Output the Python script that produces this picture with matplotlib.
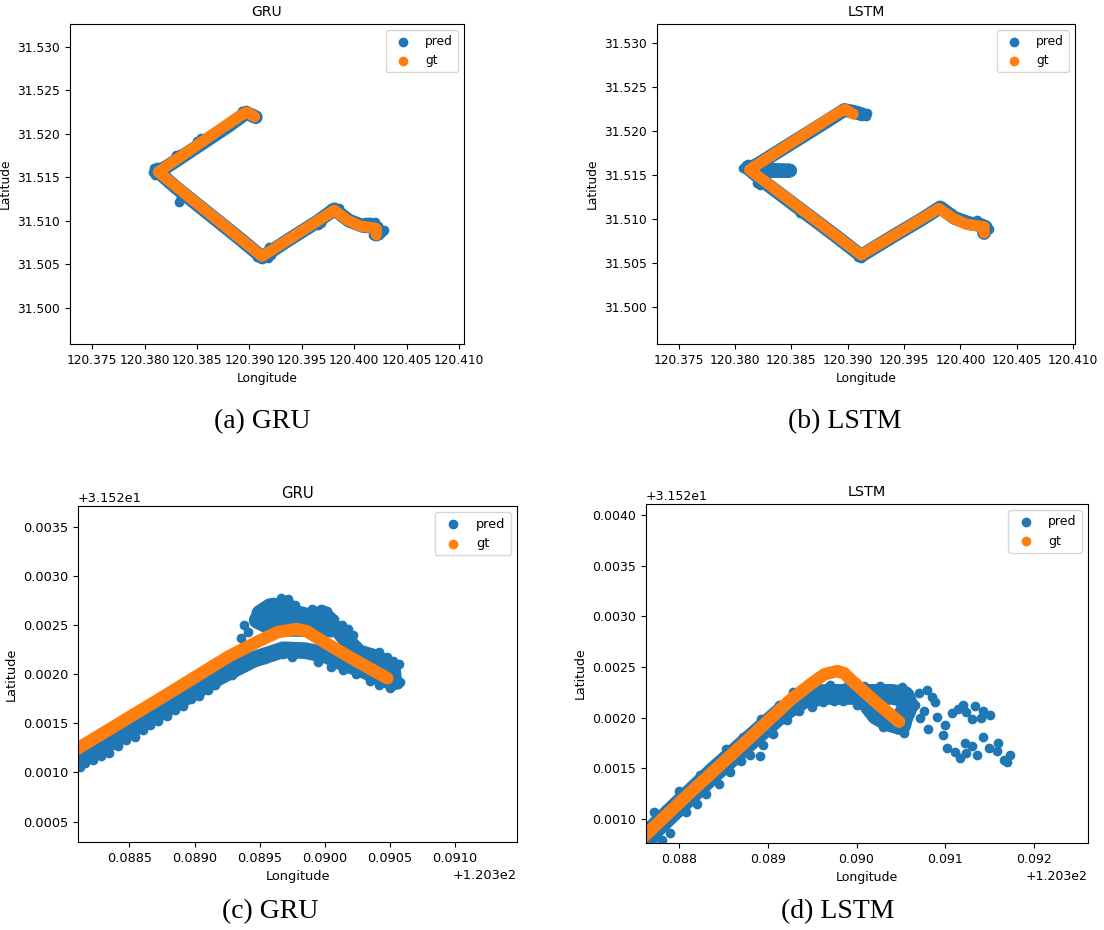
import matplotlib.pyplot as plt
import numpy as np
from matplotlib.ticker import ScalarFormatter, MultipleLocator

BLUE = '#1f77b4'
ORANGE = '#ff7f0e'

# Ground truth track, shared by both models (turn point is sampled finer)
gt_lon = [120.39048, 120.39021, 120.38993, 120.38986, 120.38978, 120.38964, 120.38948,
          120.38926, 120.38872, 120.38811, 120.3813, 120.3912, 120.3981, 120.3993,
          120.4005, 120.4016, 120.4021, 120.4021]
gt_lat = [31.52196, 31.52216, 31.52238, 31.52244, 31.52246, 31.52243, 31.52233,
          31.52218, 31.52174, 31.52125, 31.5156, 31.5059, 31.5112, 31.5101,
          31.5094, 31.5092, 31.5091, 31.5084]

# Predicted track, whole route: main path + the points that stick out of it
gru_lon = [120.3906, 120.3897, 120.3880, 120.3860, 120.3840, 120.3820, 120.3812, 120.3830,
           120.3860, 120.3890, 120.3912, 120.3940, 120.3965, 120.3981, 120.3995, 120.4008,
           120.4018, 120.4022, 120.4021]
gru_lat = [31.5219, 31.5224, 31.5209, 31.5193, 31.5177, 31.5161, 31.5157, 31.5138,
           31.5109, 31.5080, 31.5058, 31.5080, 31.5099, 31.5113, 31.5100, 31.5094,
           31.5093, 31.5091, 31.5084]
gru_out_lon = [120.3897, 120.3893, 120.3903, 120.3865, 120.3854, 120.3850, 120.3830, 120.3834,
               120.3809, 120.3808, 120.3812, 120.3810, 120.3819, 120.3822, 120.3832, 120.3834,
               120.3833, 120.3834, 120.3907, 120.3912, 120.3918, 120.3921, 120.3919, 120.3923,
               120.3940, 120.3965, 120.3968, 120.3980, 120.3985, 120.3978, 120.4010, 120.4020,
               120.4015, 120.4027, 120.4026, 120.4019, 120.4013, 120.4023, 120.4028, 120.4024,
               120.4018]
gru_out_lat = [31.5227, 31.5226, 31.5223, 31.5201, 31.5195, 31.5192, 31.5176, 31.5177,
               31.5161, 31.5156, 31.5162, 31.5152, 31.5147, 31.5143, 31.5139, 31.5134,
               31.5122, 31.5124, 31.5058, 31.5056, 31.5057, 31.5060, 31.5070, 31.5069,
               31.5082, 31.5095, 31.5097, 31.5114, 31.5115, 31.5115, 31.5099, 31.5098,
               31.5099, 31.5088, 31.5086, 31.5083, 31.5098, 31.5094, 31.5089, 31.5084,
               31.5083]

lstm_lon = [120.3913, 120.3905, 120.3897, 120.3880, 120.3860, 120.3840, 120.3820, 120.3812,
            120.3849, 120.3815, 120.3830, 120.3860, 120.3890, 120.3912, 120.3940, 120.3965,
            120.3982, 120.3995, 120.4008, 120.4018, 120.4022, 120.4021]
lstm_lat = [31.5219, 31.5222, 31.5224, 31.5210, 31.5194, 31.5178, 31.5162, 31.5157,
            31.5155, 31.5154, 31.5138, 31.5109, 31.5080, 31.5058, 31.5080, 31.5099,
            31.5113, 31.5101, 31.5095, 31.5093, 31.5091, 31.5084]
lstm_out_lon = [120.3914, 120.3917, 120.3910, 120.3916, 120.3807, 120.3810, 120.3812, 120.3822,
                120.3820, 120.3858, 120.3912, 120.3909, 120.3982, 120.3985, 120.4015, 120.4024,
                120.4025, 120.4021]
lstm_out_lat = [31.5218, 31.5221, 31.5223, 31.5217, 31.5158, 31.5161, 31.5163, 31.5139,
                31.5141, 31.5107, 31.5056, 31.5057, 31.5114, 31.5113, 31.5099, 31.5092,
                31.5089, 31.5083]

# Close-up of the turn, given as offsets the way the axes show them
LON0 = 120.3
LAT0 = 31.52

gru_zoom_path_lon = [0.08811, 0.08850, 0.08890, 0.08920, 0.08945, 0.08968, 0.08985,
                     0.09000, 0.09015, 0.09030, 0.09045, 0.09053,
                     0.09052, 0.09045, 0.09036, 0.09026, 0.09016,
                     0.09010, 0.08960, 0.08948, 0.09004, 0.08998, 0.08990, 0.08978, 0.08950,
                     0.08958, 0.08972]
gru_zoom_path_lat = [0.00111, 0.00142, 0.00174, 0.00198, 0.00215, 0.00225, 0.00224,
                     0.00220, 0.00211, 0.00204, 0.00195, 0.00192,
                     0.00205, 0.00213, 0.00218, 0.00222, 0.00236,
                     0.00246, 0.00247, 0.00255, 0.00255, 0.00262, 0.00258, 0.00262, 0.00262,
                     0.00269, 0.00269]
gru_zoom_out_lon = [0.08812, 0.08822, 0.08834, 0.08847, 0.08860, 0.08872, 0.08885, 0.08897,
                    0.08910, 0.08922, 0.08935, 0.08947, 0.08960, 0.08975,
                    0.08816, 0.08828, 0.08841, 0.08854, 0.08866, 0.08879, 0.08891, 0.08903,
                    0.08916, 0.08929, 0.08941, 0.08954, 0.08968,
                    0.08938, 0.08941, 0.08936,
                    0.08950, 0.08955, 0.08960, 0.08966, 0.08972, 0.08977, 0.08983, 0.08990,
                    0.08997, 0.09002, 0.09007, 0.09013, 0.09018, 0.09022,
                    0.09025, 0.09030, 0.09036, 0.09042, 0.09048, 0.09052, 0.09057,
                    0.08995, 0.09005, 0.09014, 0.09024, 0.09035, 0.09042, 0.09050, 0.09056,
                    0.09058]
gru_zoom_out_lat = [0.00106, 0.00113, 0.00120, 0.00133, 0.00143, 0.00152, 0.00164, 0.00175,
                    0.00184, 0.00196, 0.00205, 0.00214, 0.00219, 0.00218,
                    0.00110, 0.00117, 0.00127, 0.00136, 0.00148, 0.00157, 0.00168, 0.00178,
                    0.00189, 0.00199, 0.00209, 0.00216, 0.00221,
                    0.00250, 0.00243, 0.00237,
                    0.00262, 0.00268, 0.00274, 0.00278, 0.00277, 0.00271, 0.00262, 0.00266,
                    0.00266, 0.00264, 0.00256, 0.00250, 0.00246, 0.00240,
                    0.00229, 0.00224, 0.00222, 0.00223, 0.00218, 0.00214, 0.00210,
                    0.00213, 0.00207, 0.00204, 0.00200, 0.00193, 0.00189, 0.00186, 0.00190,
                    0.00192]

lstm_zoom_path_lon = [0.08762, 0.08800, 0.08840, 0.08880, 0.08915, 0.08940, 0.08965, 0.08990,
                      0.09015, 0.09040, 0.09054, 0.09058, 0.09052, 0.09050, 0.09035, 0.09023,
                      0.09015]
lstm_zoom_path_lat = [0.00082, 0.00114, 0.00147, 0.00178, 0.00205, 0.00219, 0.00223, 0.00223,
                      0.00223, 0.00223, 0.00221, 0.00212, 0.00200, 0.00193, 0.00197, 0.00203,
                      0.00212]
lstm_zoom_out_lon = [0.08772, 0.08785, 0.08800, 0.08823, 0.08838, 0.08853, 0.08872, 0.08892,
                     0.08913, 0.08928,
                     0.08770, 0.08781, 0.08790, 0.08808, 0.08820, 0.08830, 0.08845, 0.08857,
                     0.08870, 0.08880, 0.08891, 0.08895, 0.08906, 0.08921, 0.08935, 0.08950,
                     0.08962, 0.08975, 0.08985, 0.09000, 0.09008,
                     0.08955, 0.08970, 0.08989, 0.09008, 0.09027, 0.09051,
                     0.09012, 0.09023, 0.09030, 0.09053, 0.09045, 0.09060, 0.09058,
                     0.09070, 0.09079, 0.09085, 0.09089, 0.09076, 0.09091, 0.09081, 0.09100,
                     0.09098, 0.09066, 0.09072,
                     0.09108, 0.09115, 0.09120, 0.09124, 0.09130, 0.09134, 0.09140, 0.09143,
                     0.09150,
                     0.09102, 0.09111, 0.09117, 0.09122, 0.09124, 0.09130, 0.09136, 0.09143,
                     0.09149, 0.09158, 0.09160, 0.09166, 0.09173, 0.09170]
lstm_zoom_out_lat = [0.00107, 0.00110, 0.00128, 0.00143, 0.00150, 0.00169, 0.00181, 0.00199,
                     0.00213, 0.00225,
                     0.00080, 0.00079, 0.00086, 0.00107, 0.00115, 0.00125, 0.00135, 0.00146,
                     0.00157, 0.00163, 0.00162, 0.00173, 0.00184, 0.00198, 0.00207, 0.00211,
                     0.00216, 0.00217, 0.00217, 0.00213, 0.00214,
                     0.00232, 0.00232, 0.00231, 0.00231, 0.00231, 0.00230,
                     0.00217, 0.00198, 0.00191, 0.00185, 0.00200, 0.00205, 0.00220,
                     0.00224, 0.00227, 0.00220, 0.00216, 0.00207, 0.00201, 0.00189, 0.00193,
                     0.00183, 0.00213, 0.00200,
                     0.00205, 0.00209, 0.00213, 0.00206, 0.00199, 0.00212, 0.00200, 0.00207,
                     0.00203,
                     0.00170, 0.00166, 0.00160, 0.00175, 0.00165, 0.00172, 0.00163, 0.00181,
                     0.00170, 0.00167, 0.00175, 0.00158, 0.00163, 0.00156]


def draw(ax, p_lon, p_lat, o_lon, o_lat, title, xlim, ylim, pred_lw, gt_lw, fs):
    # pred: main path drawn thick, plus all points as dots
    ax.plot(p_lon, p_lat, color=BLUE, lw=pred_lw, solid_capstyle='round',
            solid_joinstyle='round', zorder=1)
    ax.scatter(np.concatenate([p_lon, o_lon]), np.concatenate([p_lat, o_lat]),
               s=36, color=BLUE, label='pred', zorder=1)
    # gt on top
    ax.plot(gt_lon, gt_lat, color=ORANGE, lw=gt_lw, solid_capstyle='round',
            solid_joinstyle='round', zorder=2)
    ax.scatter(gt_lon, gt_lat, s=36, color=ORANGE, label='gt', zorder=2)

    ax.set_xlim(xlim)
    ax.set_ylim(ylim)
    ax.set_title(title, fontsize=fs * 1.15)
    ax.set_xlabel('Longitude', fontsize=fs)
    ax.set_ylabel('Latitude', fontsize=fs)
    ax.tick_params(labelsize=fs)
    ax.xaxis.get_offset_text().set_fontsize(fs)
    ax.yaxis.get_offset_text().set_fontsize(fs)
    ax.legend(loc='upper right', fontsize=fs)


fig = plt.figure(figsize=(11.04, 9.3), dpi=100)

# (a) GRU, whole route
ax = fig.add_axes([0.0634, 0.6301, 0.3569, 0.3441])
draw(ax, np.array(gru_lon), np.array(gru_lat), np.array(gru_out_lon), np.array(gru_out_lat),
     'GRU', (120.37287, 120.41048), (31.49582, 31.53261), 10, 8, 8.8)
ax.xaxis.set_major_locator(MultipleLocator(0.005))
ax.yaxis.set_major_locator(MultipleLocator(0.005))
ax.xaxis.set_major_formatter(ScalarFormatter(useOffset=False))
ax.yaxis.set_major_formatter(ScalarFormatter(useOffset=False))

# (b) LSTM, whole route
ax = fig.add_axes([0.5951, 0.6301, 0.3786, 0.3441])
draw(ax, np.array(lstm_lon), np.array(lstm_lat), np.array(lstm_out_lon), np.array(lstm_out_lat),
     'LSTM', (120.37309, 120.41016), (31.49575, 31.5322), 10, 8, 8.8)
ax.xaxis.set_major_locator(MultipleLocator(0.005))
ax.yaxis.set_major_locator(MultipleLocator(0.005))
ax.xaxis.set_major_formatter(ScalarFormatter(useOffset=False))
ax.yaxis.set_major_formatter(ScalarFormatter(useOffset=False))

# (c) GRU, close-up of the turn
ax = fig.add_axes([0.0707, 0.0946, 0.3976, 0.3613])
draw(ax, LON0 + np.array(gru_zoom_path_lon), LAT0 + np.array(gru_zoom_path_lat),
     LON0 + np.array(gru_zoom_out_lon), LAT0 + np.array(gru_zoom_out_lat), 'GRU',
     (LON0 + 0.088105, LON0 + 0.091476), (LAT0 + 0.000291, LAT0 + 0.003714), 12, 9, 9.3)
ax.xaxis.set_major_locator(MultipleLocator(0.0005))
ax.yaxis.set_major_locator(MultipleLocator(0.0005))
ax.xaxis.set_major_formatter(ScalarFormatter(useOffset=LON0))
ax.yaxis.set_major_formatter(ScalarFormatter(useOffset=LAT0))

# (d) LSTM, close-up of the turn
ax = fig.add_axes([0.5851, 0.0935, 0.4004, 0.3645])
draw(ax, LON0 + np.array(lstm_zoom_path_lon), LAT0 + np.array(lstm_zoom_path_lat),
     LON0 + np.array(lstm_zoom_out_lon), LAT0 + np.array(lstm_zoom_out_lat), 'LSTM',
     (LON0 + 0.087624, LON0 + 0.092611), (LAT0 + 0.000763, LAT0 + 0.004109), 15, 9, 9.0)
ax.xaxis.set_major_locator(MultipleLocator(0.001))
ax.yaxis.set_major_locator(MultipleLocator(0.0005))
ax.xaxis.set_major_formatter(ScalarFormatter(useOffset=LON0))
ax.yaxis.set_major_formatter(ScalarFormatter(useOffset=LAT0))

# sub-captions
cap = dict(fontsize=20, family='Liberation Serif', ha='center', va='center')
fig.text(262 / 1104, 1 - 422 / 930, '(a) GRU', **cap)
fig.text(845 / 1104, 1 - 422 / 930, '(b) LSTM', **cap)
fig.text(270 / 1104, 1 - 912 / 930, '(c) GRU', **cap)
fig.text(838 / 1104, 1 - 912 / 930, '(d) LSTM', **cap)

fig.savefig('out.png', dpi=100)
